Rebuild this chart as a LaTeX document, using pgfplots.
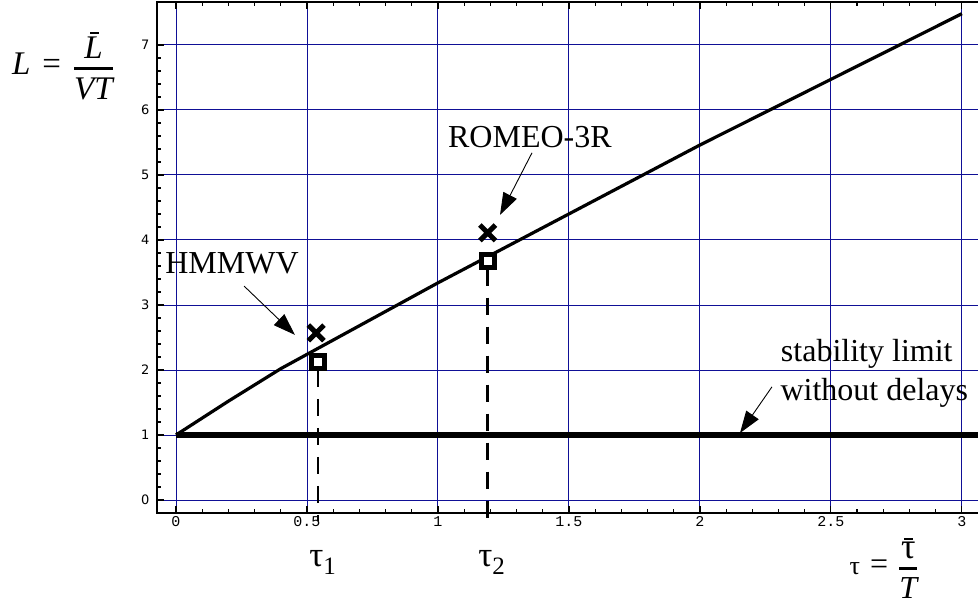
\documentclass[border=0pt]{standalone}
\usepackage{pgfplots}
\pgfplotsset{compat=1.18}
\usepackage{fontspec}
\setmainfont{Liberation Serif}
\newfontfamily\monofnt{Liberation Mono}
\newfontfamily\sansfnt{DejaVu Sans}
\usetikzlibrary{arrows.meta}
\definecolor{gridblue}{RGB}{15,15,150}

% a short bar set over a symbol: \barred[shift]{symbol}
\newcommand{\barred}[2][0bp]{\setbox0\hbox{#2}%
  \vbox{\offinterlineskip\hbox to\wd0{\hfil\kern#1\vrule width 9bp height 2bp depth 0bp\hfil}\kern2bp\box0}}

\begin{document}
\begin{tikzpicture}
\path[use as bounding box] (0,0) rectangle (978bp,608bp);
\begin{axis}[
  at={(157bp,95bp)}, anchor=south west,
  scale only axis, width=830bp, height=511bp,
  xmin=-0.0725, xmax=3.096, ymin=-0.2, ymax=7.66,
  xtick={0,0.5,1,1.5,2,2.5,3},
  xticklabels={0,0.5,1,1.5,2,2.5,3},
  ytick={0,1,2,3,4,5,6,7},
  yticklabels={0,1,2,3,4,5,6,7},
  minor x tick num=4, minor y tick num=4,
  tick align=inside,
  major tick length=7bp, minor tick length=4bp,
  grid=major,
  major grid style={gridblue, line width=0.9bp},
  axis line style={line width=1.6bp},
  tick style={black, line width=1.2bp},
  xticklabel style={font=\monofnt\fontsize{15bp}{16bp}\selectfont},
  yticklabel style={font=\sansfnt\fontsize{13bp}{14bp}\selectfont, xshift=-4bp},
  clip=false,
]
% stability limit without delays
\addplot[black, line width=5.5bp] coordinates {(0,1) (3.096,1)};
% stability limit with delays
\addplot[black, line width=3.2bp] coordinates {
  (0,1) (0.2,1.52) (0.4,2.02) (0.6,2.46) (0.8,2.9) (1.0,3.34)
  (1.5,4.4) (2.0,5.46) (2.5,6.47) (3.0,7.48)};
% vehicle delays
\addplot[black, line width=2.8bp, dash pattern=on 17bp off 12bp] coordinates {(0.542,2.0) (0.542,-0.32)};
\addplot[black, line width=2.8bp, dash pattern=on 17bp off 12bp] coordinates {(1.19,3.56) (1.19,-0.32)};
% vehicle operating points
\addplot[only marks, black, mark=square*, mark size=6.5bp, mark options={fill=white, draw=black, line width=5bp}]
  coordinates {(0.542,2.12) (1.19,3.68)};
\addplot[only marks, black, mark=x, mark size=11bp, mark options={line width=5bp}]
  coordinates {(0.535,2.57) (1.19,4.11)};

% annotations
\node[anchor=base, font=\fontsize{32bp}{38bp}\selectfont] at (axis cs:0.214,3.49) {HMMWV};
\draw[line width=0.9bp, -{Triangle[length=22bp,width=15bp]}] (axis cs:0.26,3.29) -- (axis cs:0.454,2.54);
\node[anchor=base, font=\fontsize{32bp}{38bp}\selectfont] at (axis cs:1.351,5.415) {ROMEO-3R};
\draw[line width=0.9bp, -{Triangle[length=22bp,width=15bp]}] (axis cs:1.359,5.34) -- (axis cs:1.237,4.385);
\node[anchor=base, font=\fontsize{32bp}{38bp}\selectfont] at (axis cs:2.637,2.123) {stability limit};
\node[anchor=base, font=\fontsize{32bp}{38bp}\selectfont] at (axis cs:2.666,1.538) {without delays};
\draw[line width=0.9bp, -{Triangle[length=22bp,width=15bp]}] (axis cs:2.275,1.74) -- (axis cs:2.153,1.03);

\node[anchor=base, font=\fontsize{35bp}{40bp}\selectfont] at (axis cs:0.56,-1.03)
  {τ\raisebox{-8bp}{\fontsize{25bp}{30bp}\selectfont 1}};
\node[anchor=base, font=\fontsize{35bp}{40bp}\selectfont] at (axis cs:1.205,-1.03)
  {τ\raisebox{-8bp}{\fontsize{25bp}{30bp}\selectfont 2}};
\end{axis}

\node[font=\fontsize{33bp}{40bp}\selectfont] at (63bp,542bp)
  {\itshape L\hspace{12bp}\upshape=\hspace{12bp}$\displaystyle{\hbox{\barred[3bp]{\itshape L}}\above 2.5bp \hbox{\itshape VT}}$};
\node[font=\fontsize{32bp}{40bp}\selectfont] at (884bp,40bp)
  {{\fontsize{26bp}{30bp}\selectfont τ}\hspace{10bp}=\hspace{10bp}$\displaystyle{\hbox{\barred{\fontsize{36bp}{40bp}\selectfont τ}}\above 2.5bp \hbox{\itshape T}}$};
\end{tikzpicture}
\end{document}
